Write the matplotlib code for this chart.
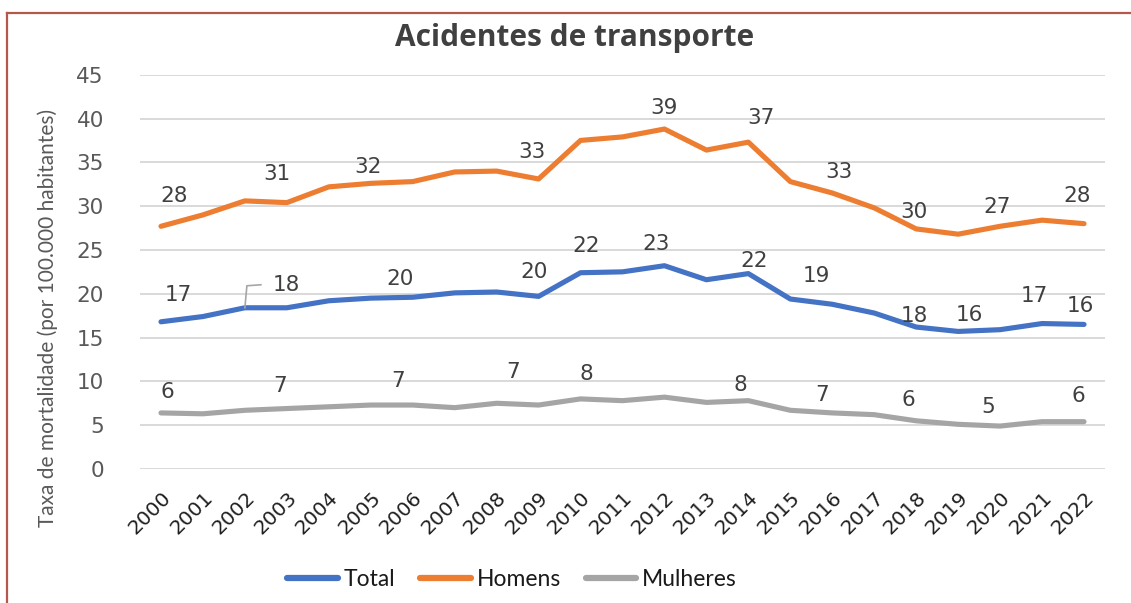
import matplotlib
matplotlib.use("Agg")
import matplotlib.pyplot as plt
from matplotlib.lines import Line2D
from matplotlib.transforms import IdentityTransform


# ------------------------------------------------------------------------------
# Data.
# ------------------------------------------------------------------------------

years = ["2000", "2001", "2002", "2003", "2004", "2005", "2006", "2007",
         "2008", "2009", "2010", "2011", "2012", "2013", "2014", "2015",
         "2016", "2017", "2018", "2019", "2020", "2021", "2022"]

total = [16.8, 17.4, 18.4, 18.4, 19.2, 19.5, 19.6, 20.1, 20.2, 19.7, 22.4,
         22.5, 23.2, 21.6, 22.3, 19.4, 18.8, 17.8, 16.2, 15.7, 15.9, 16.6,
         16.5]
homens = [27.7, 29.0, 30.6, 30.4, 32.2, 32.6, 32.8, 33.9, 34.0, 33.1, 37.5,
          37.9, 38.8, 36.4, 37.3, 32.8, 31.5, 29.8, 27.4, 26.8, 27.7, 28.4,
          28.0]
mulheres = [6.4, 6.3, 6.7, 6.9, 7.1, 7.3, 7.3, 7.0, 7.5, 7.3, 8.0, 7.8, 8.2,
            7.6, 7.8, 6.7, 6.4, 6.2, 5.5, 5.1, 4.9, 5.4, 5.4]

# Data labels shown on the chart (index of the point, text).
total_lbl_idx = [0, 3, 6, 9, 10, 12, 14, 16, 18, 19, 21, 22]
total_lbl_txt = ["17", "18", "20", "20", "22", "23", "22", "19", "18", "16",
                 "17", "16"]
homens_lbl_idx = [0, 3, 5, 9, 12, 14, 16, 18, 20, 22]
homens_lbl_txt = ["28", "31", "32", "33", "39", "37", "33", "30", "27", "28"]
mulheres_lbl_idx = [0, 3, 6, 8, 10, 14, 16, 18, 20, 22]
mulheres_lbl_txt = ["6", "7", "7", "7", "8", "8", "7", "6", "5", "6"]

# Label offsets from their point, in pixels (dx right, dy down).
total_lbl_off = [(17, -27), (0, -23), (-13, -18), (-5, -24), (6, -27),
                 (-8, -22), (6, -13), (-16, -28), (-2, -11), (11, -16),
                 (-8, -28), (-4, -18)]
homens_lbl_off = [(13, -30), (-10, -29), (-3, -16), (-7, -27), (0, -21),
                  (13, -24), (7, -21), (-2, -17), (-3, -19), (-7, -28)]
mulheres_lbl_off = [(6, -21), (-7, -23), (-15, -24), (16, -31), (6, -25),
                    (-8, -16), (-10, -18), (-8, -21), (-12, -19), (-6, -26)]

BLUE = "#4472C4"
ORANGE = "#ED7D31"
GRAY = "#A5A5A5"
TEXT = "#404040"

NUM_FONT = ["DejaVu Sans"]
LEG_FONT = ["Liberation Sans Narrow", "Lato"]

fig = plt.figure(figsize=(11.31, 6.03), dpi=100)
ax = fig.add_axes([140 / 1131, 1 - 469 / 603, 965 / 1131, (469 - 74.7) / 603])

x = list(range(len(years)))
ax.plot(x, total, color=BLUE, lw=3.7, solid_capstyle="round",
        solid_joinstyle="round", label="Total", zorder=3)
ax.plot(x, homens, color=ORANGE, lw=3.7, solid_capstyle="round",
        solid_joinstyle="round", label="Homens", zorder=3)
ax.plot(x, mulheres, color=GRAY, lw=3.7, solid_capstyle="round",
        solid_joinstyle="round", label="Mulheres", zorder=3)

ax.set_xlim(-0.5, len(years) - 0.5)
ax.set_ylim(0, 45)
ax.set_yticks(range(0, 50, 5))
ax.set_xticks(x)
ax.set_xticklabels(years, rotation=45, ha="right", va="top",
                   rotation_mode="anchor", fontsize=14.5, color="#1f1f1f",
                   family=NUM_FONT)
for lbl in ax.get_yticklabels():
    lbl.set_fontsize(15.5)
    lbl.set_color("#595959")
    lbl.set_family(NUM_FONT)

ax.tick_params(axis="both", length=0)
ax.tick_params(axis="x", pad=14)
ax.tick_params(axis="y", pad=26)
ax.grid(axis="y", color="#D9D9D9", lw=1.4)
ax.set_axisbelow(True)
for s in ax.spines.values():
    s.set_visible(False)


def add_labels(values, idx, texts, offs):
    for i, t, (dx, dy) in zip(idx, texts, offs):
        ax.annotate(t, (i, values[i]), xytext=(dx, -dy),
                    textcoords="offset pixels", ha="center", va="center",
                    fontsize=15.5, color=TEXT, family=NUM_FONT, zorder=4)


add_labels(total, total_lbl_idx, total_lbl_txt, total_lbl_off)
add_labels(homens, homens_lbl_idx, homens_lbl_txt, homens_lbl_off)
add_labels(mulheres, mulheres_lbl_idx, mulheres_lbl_txt, mulheres_lbl_off)

# Leader line from the 2002 point up to the moved "18" label.
px, py = ax.transData.transform((2, total[2]))
fig.add_artist(Line2D([px, px + 2, px + 16], [py, py + 22, py + 23],
                      transform=IdentityTransform(), color="#A6A6A6",
                      lw=1.2, zorder=5))

ax.set_ylabel("Taxa de mortalidade (por 100.000 habitantes)", fontsize=15,
              color="#595959", family=["Lato"])
ax.yaxis.set_label_coords(-0.085, 0.383)

fig.text(575 / 1131, 1 - 38 / 603, "Acidentes de transporte", ha="center",
         va="center", fontsize=21.5, fontweight="bold", color=TEXT,
         family=["Open Sans"])

leg = fig.legend(loc="center", bbox_to_anchor=(512 / 1131, 1 - 580 / 603),
                 ncol=3, frameon=False, handlelength=2.2, handletextpad=0.25,
                 columnspacing=1.1, prop={"family": LEG_FONT, "size": 16.5})
for line in leg.get_lines():
    line.set_linewidth(4.5)
    line.set_solid_capstyle("round")
for t in leg.get_texts():
    t.set_color("#1a1a1a")

# Red-brown frame (top and left edges).
frame_col = "#B5584C"
fig.add_artist(Line2D([7 / 1131, 7 / 1131], [0, 1 - 13 / 603],
                      transform=fig.transFigure, color=frame_col, lw=1.6))
fig.add_artist(Line2D([7 / 1131, 1], [1 - 13 / 603, 1 - 13 / 603],
                      transform=fig.transFigure, color=frame_col, lw=1.6))

fig.savefig("out.png", dpi=100)
